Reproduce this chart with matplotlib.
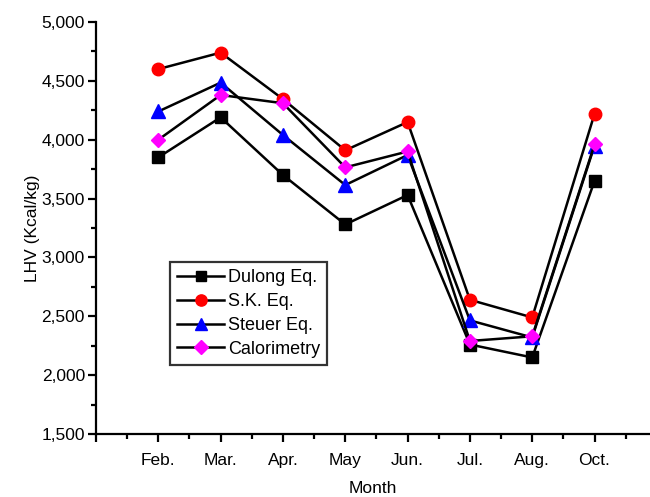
import matplotlib
matplotlib.use("Agg")
import matplotlib.pyplot as plt
from matplotlib.ticker import MultipleLocator, FuncFormatter, FixedLocator

months = ["Feb.", "Mar.", "Apr.", "May", "Jun.", "Jul.", "Aug.", "Oct."]
dulong = [3850, 4190, 3700, 3280, 3530, 2260, 2150, 3650]
sk = [4600, 4740, 4345, 3910, 4150, 2640, 2490, 4220]
steuer = [4240, 4485, 4040, 3615, 3870, 2465, 2320, 3950]
calorimetry = [4000, 4380, 4310, 3765, 3900, 2290, 2330, 3960]

plt.rcParams['font.family'] = ['Liberation Sans', 'DejaVu Sans']

fig = plt.figure(figsize=(6.5, 4.97), dpi=100)
ax = fig.add_axes([0.1477, 0.1268, 0.8523, 0.8289])

x = list(range(1, len(months) + 1))
ax.plot(x, dulong, color='black', lw=1.8, marker='s', ms=8, mfc='black', mec='black', label='Dulong Eq.')
ax.plot(x, sk, color='black', lw=1.8, marker='o', ms=9, mfc='red', mec='red', label='S.K. Eq.')
ax.plot(x, steuer, color='black', lw=1.8, marker='^', ms=9.5, mfc='blue', mec='blue', label='Steuer Eq.')
ax.plot(x, calorimetry, color='black', lw=1.8, marker='D', ms=7.5, mfc='magenta', mec='magenta', label='Calorimetry')

ax.set_xlim(0, 8.89)
ax.set_ylim(1500, 5000)
ax.xaxis.set_major_locator(FixedLocator([0] + x))
ax.set_xticklabels([""] + months)
ax.xaxis.set_minor_locator(FixedLocator([i + 0.5 for i in range(0, 9)]))
ax.yaxis.set_major_locator(MultipleLocator(500))
ax.yaxis.set_minor_locator(MultipleLocator(250))
ax.yaxis.set_major_formatter(FuncFormatter(lambda v, p: f"{int(v):,}"))

for s in ['top', 'right']:
    ax.spines[s].set_visible(False)
for s in ['left', 'bottom']:
    ax.spines[s].set_linewidth(1.6)
ax.tick_params(which='major', direction='out', length=6, width=1.6, labelsize=12.5, pad=2)
ax.tick_params(which='minor', direction='out', length=3.5, width=1.6)
ax.tick_params(axis='x', which='major', pad=8)

ax.set_xlabel("Month", fontsize=12.5, labelpad=9)
ax.set_ylabel("LHV (Kcal/kg)", fontsize=12.5, labelpad=1)

leg = ax.legend(loc='upper left', bbox_to_anchor=(0.1336, 0.4175), fontsize=13,
                frameon=True, fancybox=False, edgecolor='black', borderpad=0.4,
                handlelength=2.6, handletextpad=0.2, labelspacing=0.38, borderaxespad=0,
                markerscale=0.9)
leg.get_frame().set_linewidth(1.6)

fig.savefig("out.png", dpi=100)
